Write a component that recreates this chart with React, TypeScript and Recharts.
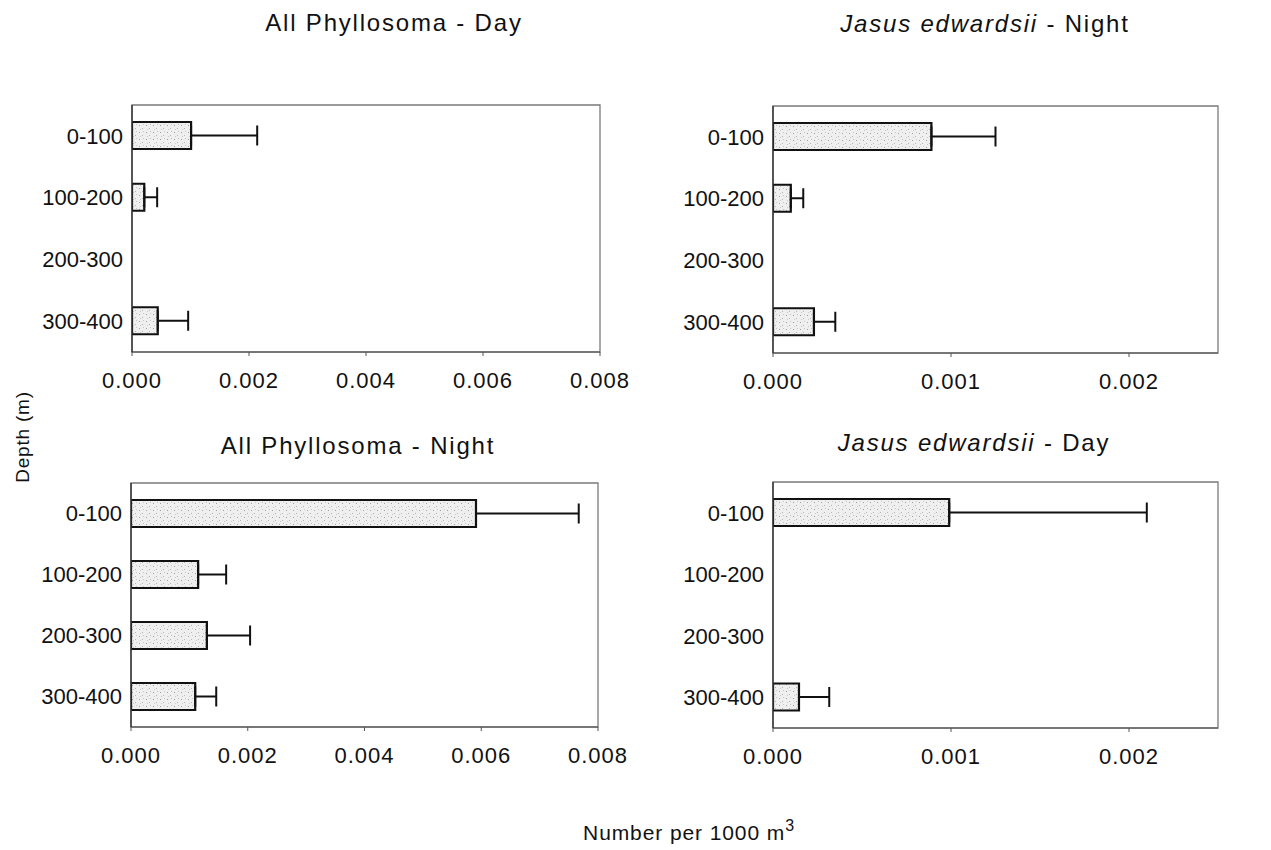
import React from 'react';
import { BarChart, Bar, XAxis, YAxis, ErrorBar, ReferenceArea } from 'recharts';

const depths = ['0-100', '100-200', '200-300', '300-400'];

const allDayMean = [0.00101, 0.00021, 0, 0.00044];
const allDaySE = [0.00113, 0.00022, 0, 0.00052];
const jasusNightMean = [0.00089, 0.0001, 0, 0.00023];
const jasusNightSE = [0.00036, 0.00007, 0, 0.00012];
const allNightMean = [0.00591, 0.00115, 0.0013, 0.0011];
const allNightSE = [0.00176, 0.00048, 0.00074, 0.00036];
const jasusDayMean = [0.00099, 0, 0, 0.000146];
const jasusDaySE = [0.00111, 0, 0, 0.00017];

const allTicks = [0, 0.002, 0.004, 0.006, 0.008];
const jasusTicks = [0, 0.001, 0.002];

const FONT = '"Liberation Sans", Arial, Helvetica, sans-serif';

type PanelProps = {
  id: string;
  left: number;
  top: number;
  width: number;
  height: number;
  yAxisWidth: number;
  means: number[];
  ses: number[];
  ticks: number[];
  max: number;
};

const RIGHT = 50;

function Panel({ id, left, top, width, height, yAxisWidth, means, ses, ticks, max }: PanelProps) {
  const data = depths.map((d, i) => ({
    depth: d,
    value: means[i],
    err: ses[i] > 0 ? [0, ses[i]] : null,
  }));
  return (
    <div style={{ position: 'absolute', left, top, width: width + RIGHT, height }}>
      <BarChart
        width={width + RIGHT}
        height={height}
        data={data}
        layout="vertical"
        margin={{ top: 10, right: 20 + RIGHT, left: 0, bottom: 0 }}
      >
        <defs>
          <pattern id={`stip-${id}`} width="7" height="7" patternUnits="userSpaceOnUse">
            <rect width="7" height="7" fill="#efefef" />
            <rect x="1" y="2" width="1" height="1" fill="#a0a0a0" />
            <rect x="4" y="5" width="1" height="1" fill="#b4b4b4" />
            <rect x="5" y="1" width="1" height="1" fill="#c6c6c6" />
            <rect x="2" y="6" width="1" height="1" fill="#cacaca" />
          </pattern>
        </defs>
        <ReferenceArea x1={0} x2={max} fill="none" stroke="#7a7a7a" strokeWidth={1.3} ifOverflow="visible" />
        <XAxis
          type="number"
          domain={[0, max]}
          ticks={ticks}
          allowDataOverflow
          tickFormatter={(v: number) => v.toFixed(3)}
          axisLine={{ stroke: '#555', strokeWidth: 1.2 }}
          tickLine={{ stroke: '#555' }}
          tickSize={4}
          tickMargin={16}
          height={43}
          interval={0}
          tick={{ fill: '#111', fontSize: 22, fontFamily: FONT, letterSpacing: 1 }}
        />
        <YAxis
          type="category"
          dataKey="depth"
          width={yAxisWidth}
          axisLine={{ stroke: '#333', strokeWidth: 1.4 }}
          tickLine={false}
          tickSize={0}
          tickMargin={9}
          interval={0}
          tick={{ fill: '#111', fontSize: 22, fontFamily: FONT }}
        />
        <Bar
          dataKey="value"
          barSize={27}
          fill={`url(#stip-${id})`}
          stroke="#111"
          strokeWidth={2.2}
          isAnimationActive={false}
        >
          <ErrorBar dataKey="err" direction="x" width={10} stroke="#111" strokeWidth={2} />
        </Bar>
      </BarChart>
    </div>
  );
}

function Title({ cx, cy, children }: { cx: number; cy: number; children: React.ReactNode }) {
  return (
    <div
      style={{
        position: 'absolute',
        left: cx - 250,
        top: cy - 15,
        width: 500,
        height: 30,
        lineHeight: '30px',
        textAlign: 'center',
        fontFamily: FONT,
        fontSize: 24,
        letterSpacing: 1.8,
        color: '#111',
        whiteSpace: 'nowrap',
      }}
    >
      {children}
    </div>
  );
}

export default function App() {
  return (
    <div
      style={{
        position: 'absolute',
        left: 0,
        top: 0,
        width: 1271,
        height: 850,
        background: '#fff',
        overflow: 'hidden',
      }}
    >
      <Title cx={394} cy={23}>All Phyllosoma - Day</Title>
      <Title cx={985} cy={24}>
        <i>Jasus edwardsii</i> - Night
      </Title>
      <Title cx={358} cy={446}>All Phyllosoma - Night</Title>
      <Title cx={974} cy={443}>
        <i>Jasus edwardsii</i> - Day
      </Title>

      <Panel id="p1" left={40} top={95} width={580} height={300} yAxisWidth={92}
        means={allDayMean} ses={allDaySE} ticks={allTicks} max={0.008} />
      <Panel id="p2" left={680} top={96} width={558} height={300} yAxisWidth={93}
        means={jasusNightMean} ses={jasusNightSE} ticks={jasusTicks} max={0.0025} />
      <Panel id="p3" left={40} top={473} width={578} height={297} yAxisWidth={91}
        means={allNightMean} ses={allNightSE} ticks={allTicks} max={0.008} />
      <Panel id="p4" left={680} top={472} width={558} height={299} yAxisWidth={93}
        means={jasusDayMean} ses={jasusDaySE} ticks={jasusTicks} max={0.0025} />

      <div
        style={{
          position: 'absolute',
          left: 23 - 80,
          top: 437 - 13,
          width: 160,
          height: 26,
          lineHeight: '26px',
          textAlign: 'center',
          transform: 'rotate(-90deg)',
          fontFamily: FONT,
          fontSize: 19,
          letterSpacing: 0.8,
          color: '#111',
          whiteSpace: 'nowrap',
        }}
      >
        Depth (m)
      </div>

      <div
        style={{
          position: 'absolute',
          left: 689 - 250,
          top: 818,
          width: 500,
          height: 30,
          lineHeight: '30px',
          textAlign: 'center',
          fontFamily: FONT,
          fontSize: 21,
          letterSpacing: 0.9,
          color: '#111',
          whiteSpace: 'nowrap',
        }}
      >
        Number per 1000 m<sup style={{ fontSize: 16, verticalAlign: 'top', position: 'relative', top: -7 }}>3</sup>
      </div>
    </div>
  );
}
